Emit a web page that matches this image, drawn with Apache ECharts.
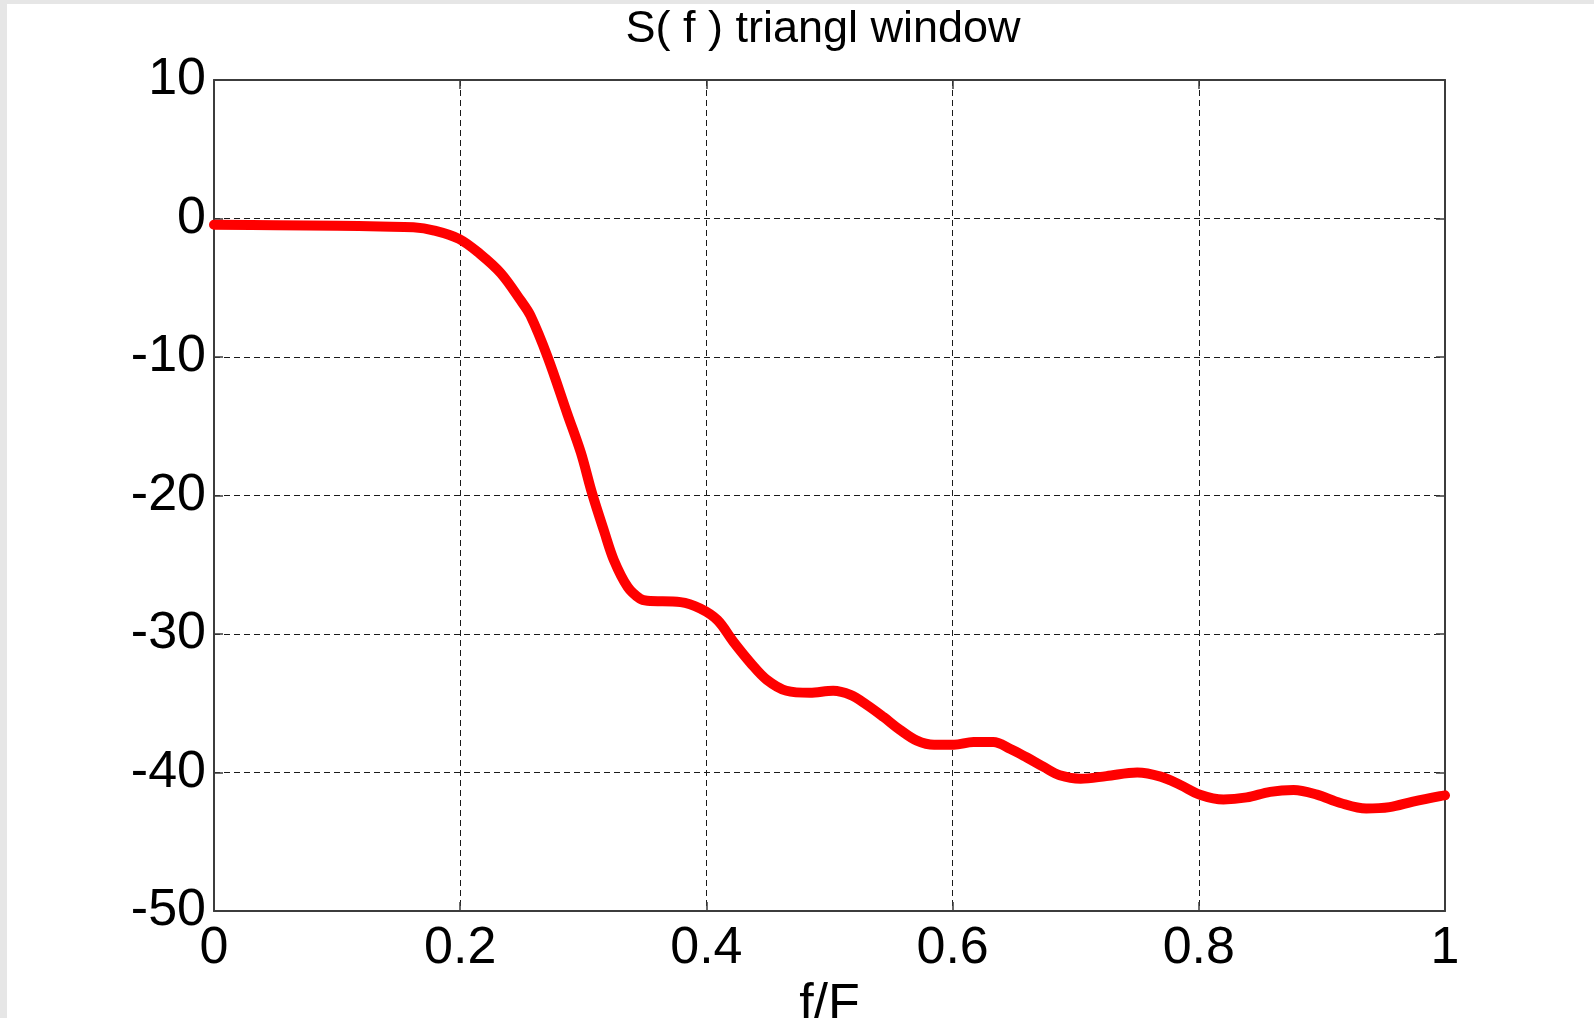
<!DOCTYPE html>
<html>
<head>
<meta charset="utf-8">
<title>S( f ) triangl window</title>
<script src="https://cdn.jsdelivr.net/npm/echarts@6/dist/echarts.min.js"></script>
<style>
  html, body { margin: 0; padding: 0; background: #ffffff; }
  #chart { width: 1594px; height: 1018px; }
</style>
</head>
<body>
<div id="chart"></div>
<script>
// Normalised frequency f/F
const freq = [
  0, 0.05, 0.10, 0.135, 0.162, 0.179, 0.199, 0.216, 0.233, 0.249,
  0.257, 0.271, 0.287, 0.298, 0.307, 0.317, 0.325, 0.336, 0.346, 0.352,
  0.379, 0.395, 0.409, 0.422, 0.436, 0.449, 0.465, 0.484, 0.503, 0.517,
  0.530, 0.544, 0.557, 0.571, 0.585, 0.601, 0.617, 0.633, 0.647, 0.660,
  0.674, 0.687, 0.704, 0.725, 0.750, 0.769, 0.785, 0.801, 0.820, 0.839,
  0.858, 0.877, 0.896, 0.915, 0.936, 0.955, 0.974, 0.996, 1.0
];

// Spectrum magnitude S(f), dB
const spectrum = [
  -0.45, -0.48, -0.52, -0.58, -0.63, -0.87, -1.47, -2.55, -3.95, -5.9,
  -7.0, -10.0, -14.1, -16.9, -19.8, -22.6, -24.7, -26.6, -27.45, -27.6,
  -27.7, -28.16, -29.0, -30.57, -32.1, -33.3, -34.1, -34.25, -34.1, -34.4,
  -35.1, -36.0, -36.9, -37.7, -38.0, -38.0, -37.8, -37.8, -38.3, -38.9,
  -39.6, -40.2, -40.45, -40.26, -40.0, -40.3, -40.9, -41.6, -41.95, -41.8,
  -41.4, -41.27, -41.6, -42.2, -42.6, -42.5, -42.1, -41.7, -41.65
];

// Axis ticks and their labels
const xTicks = [0, 0.2, 0.4, 0.6, 0.8, 1];
const xTickLabels = ['0', '0.2', '0.4', '0.6', '0.8', '1'];
const yTicks = [-50, -40, -30, -20, -10, 0, 10];
const yTickLabels = ['-50', '-40', '-30', '-20', '-10', '0', '10'];

const titleText = 'S( f ) triangl window';
const xAxisTitle = 'f/F';

const FONT = '"Liberation Sans", Arial, Helvetica, sans-serif';

function labelFor(ticks, labels) {
  return function (v) {
    for (let i = 0; i < ticks.length; i++) {
      if (Math.abs(ticks[i] - v) < 1e-9) return labels[i];
    }
    return '';
  };
}

const points = freq.map((f, i) => [f, spectrum[i]]);

const gridDash = { color: '#1a1a1a', width: 1, type: [6, 4] };
const boxLine = { show: true, onZero: false, lineStyle: { color: '#3c3c3c', width: 2 } };
const innerTick = { show: true, inside: true, length: 9, lineStyle: { color: '#3c3c3c', width: 1.5 } };

const chart = echarts.init(document.getElementById('chart'), null, { renderer: 'canvas' });

chart.setOption({
  animation: false,
  backgroundColor: '#ffffff',
  title: {
    text: titleText,
    left: 818,
    top: 2,
    textAlign: 'center',
    textStyle: { fontFamily: FONT, fontSize: 45, fontWeight: 'normal', color: '#000' }
  },
  grid: {
    left: 214, top: 80, width: 1231, height: 831,
    containLabel: false,
    outerBoundsMode: 'none'
  },
  graphic: [
    { type: 'rect', left: 0, top: 0, shape: { width: 1594, height: 4 }, style: { fill: '#e6e6e6' }, silent: true },
    { type: 'rect', left: 0, top: 0, shape: { width: 7, height: 1018 }, style: { fill: '#e6e6e6' }, silent: true }
  ],
  xAxis: [
    {
      type: 'value', min: 0, max: 1, interval: 0.2, position: 'bottom',
      name: xAxisTitle, nameLocation: 'middle', nameGap: 64,
      nameTextStyle: { fontFamily: FONT, fontSize: 52, color: '#000' },
      axisLine: boxLine, axisTick: innerTick,
      axisLabel: { fontFamily: FONT, fontSize: 52, color: '#000', margin: 12, formatter: labelFor(xTicks, xTickLabels) },
      splitLine: { show: true, lineStyle: gridDash }
    },
    {
      type: 'value', min: 0, max: 1, interval: 0.2, position: 'top',
      axisLine: boxLine, axisTick: innerTick, axisLabel: { show: false }, splitLine: { show: false }
    }
  ],
  yAxis: [
    {
      type: 'value', min: -50, max: 10, interval: 10, position: 'left',
      axisLine: boxLine, axisTick: innerTick,
      axisLabel: { fontFamily: FONT, fontSize: 52, color: '#000', margin: 8, formatter: labelFor(yTicks, yTickLabels) },
      splitLine: { show: true, lineStyle: gridDash }
    },
    {
      type: 'value', min: -50, max: 10, interval: 10, position: 'right',
      axisLine: boxLine, axisTick: innerTick, axisLabel: { show: false }, splitLine: { show: false }
    }
  ],
  series: [
    {
      type: 'line',
      data: points,
      xAxisIndex: 0, yAxisIndex: 0,
      smooth: 0.35,
      showSymbol: false,
      lineStyle: { color: '#ff0000', width: 10, cap: 'round', join: 'round' },
      z: 5
    }
  ]
});
</script>
</body>
</html>
